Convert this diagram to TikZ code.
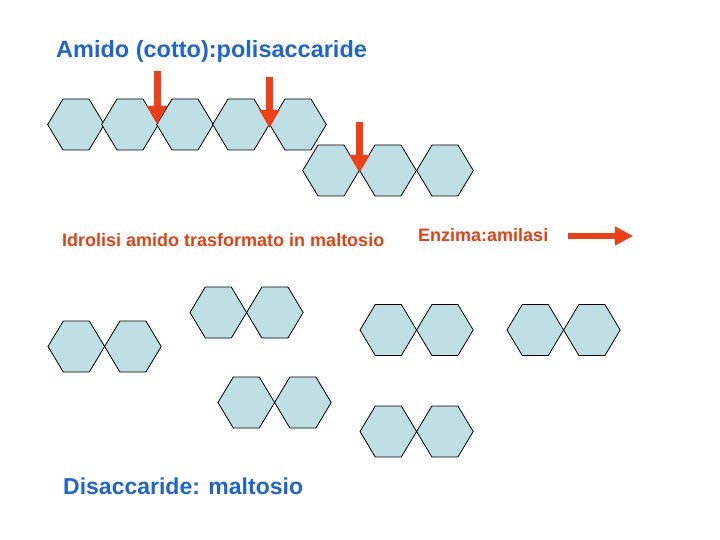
\documentclass[tikz,border=0pt]{standalone}
\usepackage{fontspec}
\setmainfont{Liberation Sans}
\usetikzlibrary{arrows.meta}
\definecolor{hexfill}{RGB}{190,223,228}
\definecolor{cutred}{RGB}{240,62,22}
\definecolor{titleblue}{RGB}{30,100,210}
\definecolor{labelred}{RGB}{225,65,20}
\tikzset{
  hexunit/.pic={\draw[fill=hexfill,line width=0.8pt]
    (-28.3,0) -- (-13,25.5) -- (13,25.5) -- (28.3,0) -- (13,-25.5) -- (-13,-25.5) -- cycle;},
  cutarrow/.style={draw=cutred,line width=7pt,-{Triangle[width=19pt,length=18pt]}},
  textlabel/.style={anchor=base west,inner sep=0pt},
}
\begin{document}
\begin{tikzpicture}[x=1pt,y=-1pt]
  \useasboundingbox (0,0) rectangle (720,540);
  % catena di amido
  \foreach \cx in {76,130,185,241,298}{
    \pic at (\cx,124.5) {hexunit};
  }
  \foreach \cx in {331,388,445}{
    \pic at (\cx,170.5) {hexunit};
  }
  % punti di taglio
  \coordinate (cut1top) at (157,71);
  \coordinate (cut1tip) at (157,124);
  \coordinate (cut2top) at (269.5,77);
  \coordinate (cut2tip) at (269.5,128);
  \coordinate (cut3top) at (359.5,122);
  \coordinate (cut3tip) at (359.5,173);
  \draw[cutarrow] (cut1top) -- (cut1tip);
  \draw[cutarrow] (cut2top) -- (cut2tip);
  \draw[cutarrow] (cut3top) -- (cut3tip);
  % maltosio
  \foreach \cx/\cy in {76.3/346.5,218.3/312.5,246.3/402.5,388.3/330,535.3/330,388.3/431.5}{
    \pic at (\cx,\cy) {hexunit};
    \pic at (\cx+56.6,\cy) {hexunit};
  }
  % testi
  \node[textlabel,text=titleblue,font=\fontsize{23.5}{28}\selectfont\bfseries] (titolo) at (56,58)
    {Amido (cotto):polisaccaride};
  \node[textlabel,text=labelred,font=\fontsize{18}{22}\selectfont\bfseries] (idrolisi) at (62,246)
    {Idrolisi amido trasformato in maltosio};
  \node[textlabel,text=labelred,font=\fontsize{18}{22}\selectfont\bfseries] (enzima) at (418,241)
    {Enzima:amilasi};
  \node[textlabel,text=titleblue,font=\fontsize{23}{27}\selectfont\bfseries] (disacc) at (63,494)
    {Disaccaride: maltosio};
  \coordinate (enzstart) at (568,236);
  \coordinate (enzend) at (633,236);
  \draw[draw=cutred,line width=5.5pt,-{Triangle[width=18pt,length=18pt]}] (enzstart) -- (enzend);
\end{tikzpicture}
\end{document}
